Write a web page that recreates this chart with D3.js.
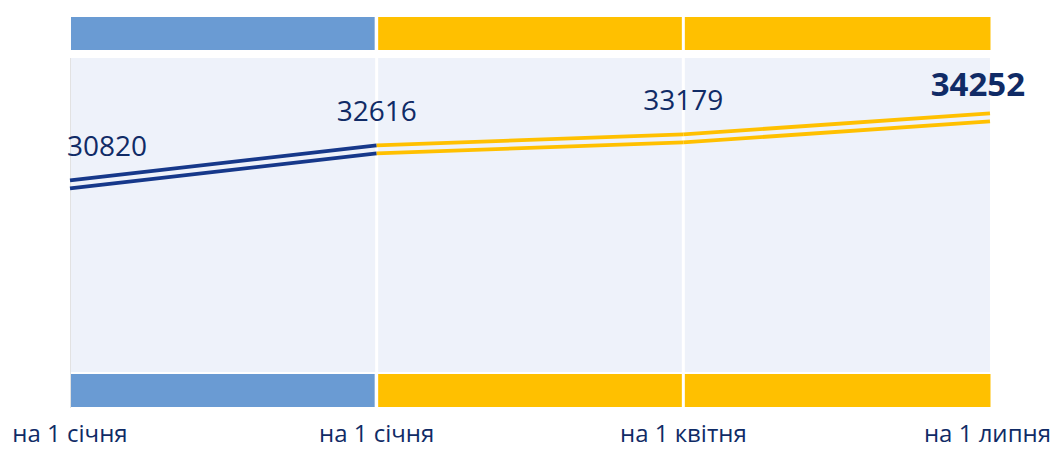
<!DOCTYPE html>
<html>
<head>
<meta charset="utf-8">
<script src="https://cdn.jsdelivr.net/npm/d3@7"></script>
<style>
  body { margin: 0; background: #fff; }
  svg { display: block; font-family: "Open Sans", sans-serif; }
</style>
</head>
<body>
<div id="chart"></div>
<script>
// chart data
const categories = ["на 1 січня", "на 1 січня", "на 1 квітня", "на 1 липня"];
const values = [30820, 32616, 33179, 34252];

const width = 1053, height = 449;
const plot = { left: 70, right: 990, top: 58, bottom: 372 }; // light plot area

const blue = "#6A9BD3", gold = "#FFC000", navy = "#16388A", textColor = "#102B66";

const svg = d3.select("#chart").append("svg")
    .attr("width", width)
    .attr("height", height);

const x = d3.scalePoint().domain(d3.range(values.length)).range([plot.left, plot.right]);
const y = d3.scaleLinear().domain([21200, 37300]).range([plot.bottom, plot.top]);

// plot background
svg.append("rect")
    .attr("x", plot.left).attr("y", plot.top)
    .attr("width", plot.right - plot.left).attr("height", plot.bottom - plot.top)
    .attr("fill", "#EEF2FA");
svg.append("line") // faint left border
    .attr("x1", plot.left + 0.5).attr("x2", plot.left + 0.5)
    .attr("y1", plot.top).attr("y2", plot.bottom + 36)
    .attr("stroke", "#E2E2E2").attr("stroke-width", 1);

// vertical white dividers inside plot
svg.selectAll("line.grid")
    .data(d3.range(1, values.length - 1))
    .enter().append("line")
    .attr("class", "grid")
    .attr("x1", d => x(d)).attr("x2", d => x(d))
    .attr("y1", plot.top).attr("y2", plot.bottom)
    .attr("stroke", "#fff").attr("stroke-width", 3);

// coloured bands above and below the plot (one per interval)
const segments = d3.range(values.length - 1);
const segColor = i => i === 0 ? blue : gold;
[[17, 50], [374, 407]].forEach(([y0, y1]) => {
    svg.append("g").selectAll("rect")
        .data(segments)
        .enter().append("rect")
        .attr("x", d => x(d) + (d === 0 ? 1 : 1.5))
        .attr("width", d => x(d + 1) - x(d) - (d === segments.length - 1 ? 1 : 3))
        .attr("y", y0).attr("height", y1 - y0)
        .attr("fill", d => segColor(d));
});

// double line, drawn per segment
const offsets = [-4, 4];
segments.forEach(i => {
    offsets.forEach(off => {
        svg.append("line")
            .attr("x1", x(i)).attr("y1", y(values[i]) + off)
            .attr("x2", x(i + 1)).attr("y2", y(values[i + 1]) + off)
            .attr("stroke", i === 0 ? navy : gold)
            .attr("stroke-width", 3.8);
    });
});

// value labels, centred above points but kept inside the chart
const labels = svg.append("g").selectAll("text")
    .data(values)
    .enter().append("text")
    .attr("y", (d, i) => y(d) - (i === values.length - 1 ? 21 : 28))
    .attr("text-anchor", "middle")
    .attr("fill", textColor)
    .style("font-size", (d, i) => i === values.length - 1 ? "33px" : "28px")
    .style("font-weight", (d, i) => i === values.length - 1 ? "bold" : "normal")
    .text(d => d);
labels.attr("x", function (d, i) {
    const w = this.getComputedTextLength();
    return Math.max(67 + w / 2, Math.min(1025 - w / 2, x(i)));
});

// category labels (kept just clear of the bottom edge)
const cats = svg.append("g").selectAll("text")
    .data(categories)
    .enter().append("text")
    .attr("y", 442)
    .attr("text-anchor", "middle")
    .attr("fill", textColor)
    .style("font-size", "24px")
    .text(d => d);
cats.attr("x", function (d, i) {
    const w = this.getComputedTextLength();
    return Math.max(9 + w / 2, Math.min(1051 - w / 2, x(i)));
});
</script>
</body>
</html>
